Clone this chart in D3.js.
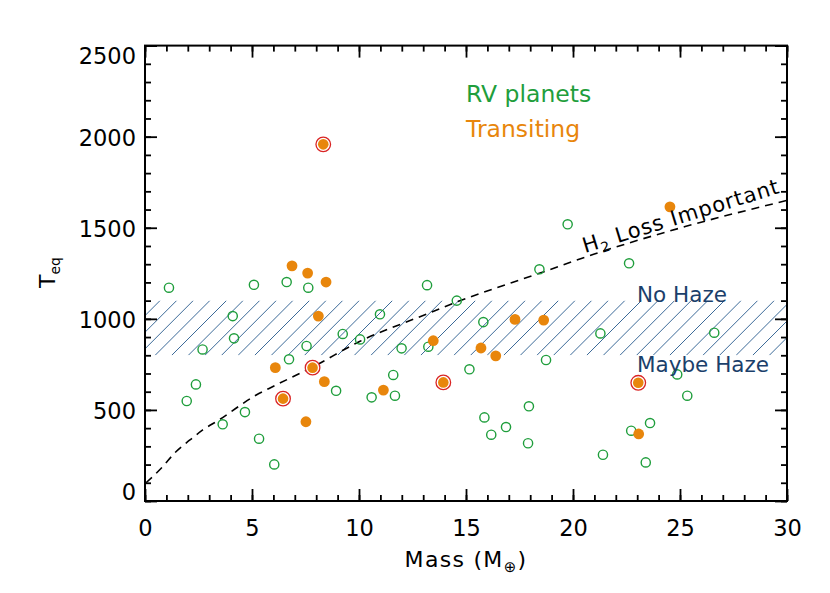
<!DOCTYPE html>
<html>
<head>
<meta charset="utf-8">
<script src="https://cdn.jsdelivr.net/npm/d3@7"></script>
<style>
  body { margin: 0; background: #fff; }
  text { font-family: "DejaVu Sans", sans-serif; }
</style>
</head>
<body>
<div id="chart"></div>
<script>
// RV planets (open green circles)
const rvMass = [1.12, 5.09, 6.62, 7.63, 13.18, 14.57, 4.10, 10.98, 2.69, 4.16, 7.55, 9.24, 10.05, 11.99, 13.24,
  15.81, 6.73, 8.93, 11.6, 10.59, 11.68, 15.16, 2.38, 1.95, 4.67, 3.63, 5.33, 6.04, 15.86, 18.74,
  21.28, 26.6, 24.87, 25.34, 17.94, 16.87, 16.18, 17.9, 22.72, 23.6, 21.4, 23.4, 19.75, 18.43, 22.62];
const rvTeq = [1171, 1187, 1202, 1171, 1185, 1100, 1015, 1025, 832, 893, 851, 917, 887, 838, 847,
  982, 778, 605, 692, 569, 578, 723, 640, 549, 488, 421, 342, 201, 459, 774,
  920, 924, 695, 578, 520, 406, 364, 317, 386, 428, 254, 212, 1519, 1272, 1305];

// transiting planets (filled orange)
const trMass = [6.87, 7.60, 8.46, 8.10, 13.47, 15.7, 6.09, 8.38, 11.14, 7.52, 17.29, 18.63, 16.39, 23.07, 24.53];
const trTeq = [1291, 1251, 1202, 1015, 880, 840, 732, 655, 609, 435, 997, 993, 797, 368, 1615];

// transiting planets circled in red
const ringMass = [8.33, 7.83, 6.45, 13.94, 23.05];
const ringTeq = [1958, 732, 562, 651, 649];

// H2 loss curve
const lossMass = [0.05, 0.8, 1.4, 2.1, 2.7, 3.5, 4.4, 5.2, 5.8, 8.0, 10.0, 12.85, 14.6, 18.5, 21.0, 25.2, 30];
const lossTeq = [100, 185, 265, 335, 390, 448, 521, 582, 618, 746, 874, 1012, 1094, 1253, 1356, 1505, 1650];

// haze band
const hazeLow = 800, hazeHigh = 1100;

const xTicks = [0, 5, 10, 15, 20, 25, 30];
const yTicks = [0, 500, 1000, 1500, 2000, 2500];

const width = 830, height = 593;
const margin = {left: 145, top: 45.6, right: 43, bottom: 92};

const svg = d3.select("#chart").append("svg")
  .attr("width", width)
  .attr("height", height);

let x = d3.scaleLinear().domain([0, 30]).range([margin.left, width - margin.right]);
let y = d3.scaleLinear().domain([0, 2500]).range([height - margin.bottom, margin.top]);

const green = "#1f9e3c", orange = "#e8860c", red = "#d92424", navy = "#1b3f6b", hatch = "#3c6a98";

// hatched band
svg.append("clipPath").attr("id", "bandClip")
  .append("rect")
  .attr("x", x(0)).attr("y", y(hazeHigh))
  .attr("width", x(30) - x(0)).attr("height", y(hazeLow) - y(hazeHigh));

let bandH = y(hazeLow) - y(hazeHigh);
let step = 16.6;
let starts = d3.range(x(0) - bandH + 15, x(30) + step, step);
svg.append("g").attr("clip-path", "url(#bandClip)")
  .selectAll("line").data(starts).enter().append("line")
  .attr("x1", d => d).attr("y1", y(hazeLow))
  .attr("x2", d => d + bandH).attr("y2", y(hazeHigh))
  .attr("stroke", hatch).attr("stroke-width", 1);

// dashed H2 loss curve
let lossData = lossMass.map((m, i) => ({m: m, t: lossTeq[i]}));
svg.append("path")
  .datum(lossData)
  .attr("fill", "none")
  .attr("stroke", "#000")
  .attr("stroke-width", 1.6)
  .attr("stroke-dasharray", "8,6")
  .attr("d", d3.line().curve(d3.curveMonotoneX)
    .x(d => x(d.m)).y(d => y(d.t)));

// RV planets
svg.append("g").selectAll("circle")
  .data(rvMass).enter().append("circle")
  .attr("cx", d => x(d))
  .attr("cy", (d, i) => y(rvTeq[i]))
  .attr("r", 4.6)
  .attr("fill", "none")
  .attr("stroke", green)
  .attr("stroke-width", 1.4);

// transiting
svg.append("g").selectAll("circle")
  .data(trMass).enter().append("circle")
  .attr("cx", d => x(d))
  .attr("cy", (d, i) => y(trTeq[i]))
  .attr("r", 5.4)
  .attr("fill", orange);

let rings = svg.append("g").selectAll("g")
  .data(ringMass).enter().append("g");
rings.append("circle")
  .attr("cx", d => x(d))
  .attr("cy", (d, i) => y(ringTeq[i]))
  .attr("r", 7.3)
  .attr("fill", "#fff")
  .attr("stroke", red)
  .attr("stroke-width", 1.3);
rings.append("circle")
  .attr("cx", d => x(d))
  .attr("cy", (d, i) => y(ringTeq[i]))
  .attr("r", 5.3)
  .attr("fill", orange);

// axes: major + minor ticks pointing inward on all four sides
const fontSize = 22.5;
let plotH = y(0) - y(2500), plotW = x(30) - x(0);

let xAxis = svg.append("g")
  .attr("transform", `translate(0,${y(0)})`)
  .call(d3.axisBottom(x).tickValues(xTicks).tickSize(-12).tickPadding(19).tickFormat(d3.format("d")));
svg.append("g")
  .attr("transform", `translate(0,${y(0)})`)
  .call(d3.axisBottom(x).ticks(30).tickSize(-6).tickFormat(""));
svg.append("g")
  .attr("transform", `translate(0,${y(2500)})`)
  .call(d3.axisTop(x).tickValues(xTicks).tickSize(-12).tickFormat(""));
svg.append("g")
  .attr("transform", `translate(0,${y(2500)})`)
  .call(d3.axisTop(x).ticks(30).tickSize(-6).tickFormat(""));

let yAxis = svg.append("g")
  .attr("transform", `translate(${x(0)},0)`)
  .call(d3.axisLeft(y).tickValues(yTicks).tickSize(-12).tickPadding(9).tickFormat(d3.format("d")));
svg.append("g")
  .attr("transform", `translate(${x(0)},0)`)
  .call(d3.axisLeft(y).tickValues(d3.range(0, 2501, 100)).tickSize(-6).tickFormat(""));
svg.append("g")
  .attr("transform", `translate(${x(30)},0)`)
  .call(d3.axisRight(y).tickValues(yTicks).tickSize(-12).tickFormat(""));
svg.append("g")
  .attr("transform", `translate(${x(30)},0)`)
  .call(d3.axisRight(y).tickValues(d3.range(0, 2501, 100)).tickSize(-6).tickFormat(""));

svg.selectAll(".domain").remove();
svg.selectAll(".tick line").attr("stroke", "#000").attr("stroke-width", 1.8);
svg.selectAll(".tick text")
  .style("font-size", fontSize + "px")
  .style("font-family", "DejaVu Sans, sans-serif")
  .attr("fill", "#000");

// keep the end labels inside the axis range, as IDL does
yAxis.selectAll(".tick text")
  .attr("dy", d => d === 0 ? "-0.05em" : (d === 2500 ? "0.8em" : "0.4em"));

svg.append("rect")
  .attr("x", x(0)).attr("y", y(2500))
  .attr("width", plotW).attr("height", plotH)
  .attr("fill", "none")
  .attr("stroke", "#000")
  .attr("stroke-width", 2);

// axis titles
svg.append("text")
  .attr("x", (x(0) + x(30)) / 2)
  .attr("y", 567)
  .style("text-anchor", "middle")
  .style("font-size", "22px")
  .style("letter-spacing", "1.3px")
  .html('Mass (M<tspan dy="5" font-size="15px">⊕</tspan><tspan dy="-5">)</tspan>');

svg.append("text")
  .attr("transform", `translate(55, 288) rotate(-90)`)
  .style("text-anchor", "start")
  .style("font-size", "22px")
  .html('T<tspan dy="5" font-size="14px">eq</tspan>');

// legend text
svg.append("text")
  .attr("x", 466).attr("y", 101.5)
  .attr("fill", green)
  .style("font-size", "23.5px")
  .text("RV planets");
svg.append("text")
  .attr("x", 466).attr("y", 136.5)
  .attr("fill", orange)
  .style("font-size", "23.5px")
  .text("Transiting");

// band labels
svg.append("text")
  .attr("x", 637).attr("y", 302)
  .attr("fill", navy)
  .style("font-size", "21.5px")
  .text("No Haze");
svg.append("text")
  .attr("x", 637).attr("y", 371.5)
  .attr("fill", navy)
  .style("font-size", "21.5px")
  .text("Maybe Haze");

// curve label
svg.append("text")
  .attr("transform", "translate(585, 253) rotate(-17.1)")
  .style("font-size", "21px")
  .style("letter-spacing", "1px")
  .html('H<tspan dy="5" font-size="14px">2</tspan><tspan dy="-5"> Loss Important</tspan>');
</script>
</body>
</html>
